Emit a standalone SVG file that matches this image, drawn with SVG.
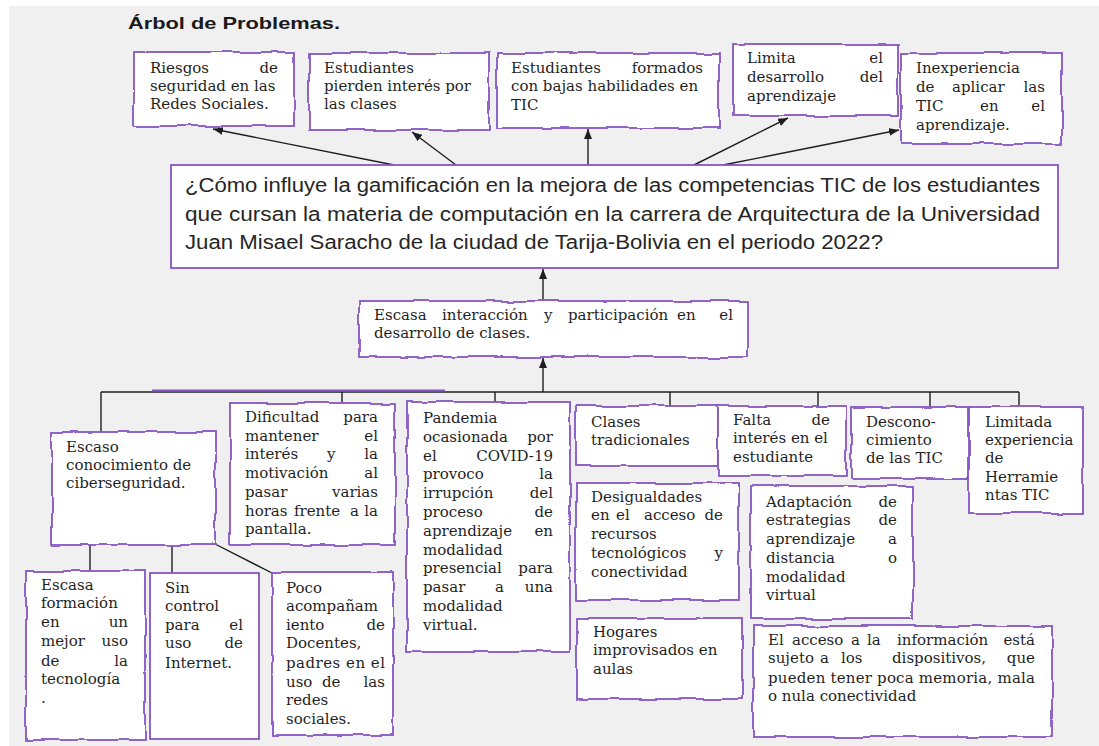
<svg xmlns="http://www.w3.org/2000/svg" width="1099" height="746" viewBox="0 0 1099 746">
<defs>
<style>
.bg{fill:#f0f0f0}
.bx{fill:#fff;stroke:#8456c4;stroke-width:1.8;filter:url(#wob)}
.sb{fill:#fff;stroke:#8456c4;stroke-width:1.8}
.t{font-family:"DejaVu Serif","Liberation Serif",serif;font-size:15px;fill:#1f1f1f}
.e{text-anchor:end}
.q{font-family:"Liberation Sans",Arial,sans-serif;font-size:19.5px;fill:#262626}
.h{font-family:"Liberation Sans",Arial,sans-serif;font-size:16.5px;font-weight:bold;fill:#1a1a1a}
.c{stroke:#1e1e1e;stroke-width:1.4;fill:none}
.a{marker-end:url(#ah)}
.p{stroke:#8456c4;stroke-width:1.8;fill:none}
</style>
<marker id="ah" markerWidth="10" markerHeight="8" refX="10" refY="4" orient="auto" markerUnits="userSpaceOnUse"><path d="M0,0 L10,4 L0,8 z" fill="#1e1e1e"/></marker>
<filter id="wob"><feTurbulence type="fractalNoise" baseFrequency="0.03" numOctaves="2" seed="7"/><feDisplacementMap in="SourceGraphic" scale="5" xChannelSelector="R" yChannelSelector="G"/></filter>
</defs>
<rect class="bg" x="9" y="6" width="1090" height="740"/>
<text class="h" x="128" y="29" textLength="212" lengthAdjust="spacingAndGlyphs">Árbol de Problemas.</text>

<g id="connectors">
<line class="c a" x1="394" y1="165" x2="213" y2="129"/>
<line class="c a" x1="456" y1="165" x2="412" y2="132"/>
<line class="c a" x1="588" y1="165" x2="588" y2="129"/>
<line class="c a" x1="694" y1="165" x2="788" y2="118"/>
<line class="c a" x1="723" y1="165" x2="899" y2="130"/>
<line class="c a" x1="543" y1="301" x2="543" y2="269"/>
<line class="c a" x1="543" y1="392" x2="543" y2="358"/>
<line class="c" x1="101" y1="392" x2="1019" y2="392"/>
<line class="p" x1="152" y1="390.5" x2="445" y2="390.5"/>
<line class="c" x1="101" y1="392" x2="101" y2="432"/>
<line class="c" x1="342" y1="392" x2="342" y2="404"/>
<line class="c" x1="495" y1="392" x2="495" y2="403"/>
<line class="c" x1="670" y1="392" x2="670" y2="407"/>
<line class="c" x1="818" y1="392" x2="818" y2="407"/>
<line class="c" x1="930" y1="392" x2="930" y2="408"/>
<line class="c" x1="1019" y1="392" x2="1019" y2="408"/>
<line class="c" x1="90" y1="545" x2="90" y2="571"/>
<line class="c" x1="172" y1="545" x2="172" y2="573"/>
<line class="c" x1="215" y1="544" x2="272" y2="573"/>
</g>

<g id="n1">
<rect class="bx" x="134" y="52" width="160" height="74"/>
<text class="t" x="150" y="73">Riesgos</text><text class="t e" x="278" y="73">de</text>
<text class="t" x="150" y="91">seguridad en las</text>
<text class="t" x="150" y="109">Redes Sociales.</text>
</g>
<g id="n2">
<rect class="bx" x="309" y="53" width="180" height="77"/>
<text class="t" x="324" y="73">Estudiantes</text>
<text class="t" x="324" y="91">pierden interés por</text>
<text class="t" x="324" y="109">las clases</text>
</g>
<g id="n3">
<rect class="bx" x="497" y="53" width="222" height="75"/>
<text class="t" x="511" y="73">Estudiantes</text><text class="t e" x="703" y="73">formados</text>
<text class="t" x="511" y="91">con bajas habilidades en</text>
<text class="t" x="511" y="110">TIC</text>
</g>
<g id="n4">
<rect class="bx" x="733" y="44" width="165" height="72"/>
<text class="t" x="747" y="63">Limita</text><text class="t e" x="883" y="63">el</text>
<text class="t" x="747" y="82">desarrollo</text><text class="t e" x="883" y="82">del</text>
<text class="t" x="747" y="101">aprendizaje</text>
</g>
<g id="n5">
<rect class="bx" x="901" y="53" width="161" height="91"/>
<text class="t" x="916" y="73">Inexperiencia</text>
<text class="t" x="916" y="92">de</text><text class="t" x="952" y="92">aplicar</text><text class="t e" x="1045" y="92">las</text>
<text class="t" x="916" y="111">TIC</text><text class="t" x="980" y="111">en</text><text class="t e" x="1045" y="111">el</text>
<text class="t" x="916" y="130">aprendizaje.</text>
</g>

<g id="main">
<rect class="sb" x="171" y="165" width="887" height="103"/>
<text class="q" x="185" y="192" textLength="855" lengthAdjust="spacingAndGlyphs">¿Cómo influye la gamificación en la mejora de las competencias TIC de los estudiantes</text>
<text class="q" x="185" y="220.5" textLength="855" lengthAdjust="spacingAndGlyphs">que cursan la materia de computación en la carrera de Arquitectura de la Universidad</text>
<text class="q" x="185" y="249" textLength="698" lengthAdjust="spacingAndGlyphs">Juan Misael Saracho de la ciudad de Tarija-Bolivia en el periodo 2022?</text>
</g>

<g id="n6">
<rect class="bx" x="359" y="301" width="389" height="56"/>
<text class="t" x="374" y="320">Escasa</text><text class="t" x="442" y="320">interacción</text><text class="t" x="544" y="320">y</text><text class="t" x="568" y="320">participación</text><text class="t" x="677" y="320">en</text><text class="t e" x="733" y="320">el</text>
<text class="t" x="374" y="338">desarrollo de clases.</text>
</g>

<g id="n7">
<rect class="bx" x="52" y="432" width="163" height="113"/>
<text class="t" x="66" y="452">Escaso</text>
<text class="t" x="66" y="470">conocimiento de</text>
<text class="t" x="66" y="488">ciberseguridad.</text>
</g>
<g id="n8">
<rect class="bx" x="230" y="403" width="165" height="142"/>
<text class="t" x="245" y="422">Dificultad</text><text class="t e" x="378" y="422">para</text>
<text class="t" x="245" y="441">mantener</text><text class="t e" x="378" y="441">el</text>
<text class="t" x="245" y="459">interés</text><text class="t" x="327" y="459">y</text><text class="t e" x="378" y="459">la</text>
<text class="t" x="245" y="478">motivación</text><text class="t e" x="378" y="478">al</text>
<text class="t" x="245" y="497">pasar</text><text class="t e" x="378" y="497">varias</text>
<text class="t" x="245" y="516">horas</text><text class="t" x="294" y="516">frente</text><text class="t" x="350" y="516">a</text><text class="t e" x="378" y="516">la</text>
<text class="t" x="245" y="534">pantalla.</text>
</g>
<g id="n9">
<rect class="bx" x="407" y="402" width="163" height="250"/>
<text class="t" x="423" y="423">Pandemia</text>
<text class="t" x="423" y="442">ocasionada</text><text class="t e" x="553" y="442">por</text>
<text class="t" x="423" y="461">el</text><text class="t e" x="553" y="461">COVID-19</text>
<text class="t" x="423" y="479">provoco</text><text class="t e" x="553" y="479">la</text>
<text class="t" x="423" y="498">irrupción</text><text class="t e" x="553" y="498">del</text>
<text class="t" x="423" y="517">proceso</text><text class="t e" x="553" y="517">de</text>
<text class="t" x="423" y="536">aprendizaje</text><text class="t e" x="553" y="536">en</text>
<text class="t" x="423" y="555">modalidad</text>
<text class="t" x="423" y="573">presencial</text><text class="t e" x="553" y="573">para</text>
<text class="t" x="423" y="592">pasar</text><text class="t" x="495" y="592">a</text><text class="t e" x="553" y="592">una</text>
<text class="t" x="423" y="611">modalidad</text>
<text class="t" x="423" y="630">virtual.</text>
</g>
<g id="n10">
<rect class="bx" x="576" y="406" width="142" height="60"/>
<text class="t" x="591" y="427">Clases</text>
<text class="t" x="591" y="445">tradicionales</text>
</g>
<g id="n11">
<rect class="bx" x="576" y="483" width="163" height="117"/>
<text class="t" x="591" y="502">Desigualdades</text>
<text class="t" x="591" y="520">en</text><text class="t" x="616" y="520">el</text><text class="t" x="644" y="520">acceso</text><text class="t e" x="723" y="520">de</text>
<text class="t" x="591" y="539">recursos</text>
<text class="t" x="591" y="558">tecnológicos</text><text class="t e" x="723" y="558">y</text>
<text class="t" x="591" y="577">conectividad</text>
</g>
<g id="n12">
<rect class="bx" x="577" y="618" width="165" height="81"/>
<text class="t" x="593" y="637">Hogares</text>
<text class="t" x="593" y="655">improvisados en</text>
<text class="t" x="593" y="674">aulas</text>
</g>
<g id="n13">
<rect class="bx" x="718" y="406" width="129" height="70"/>
<text class="t" x="733" y="425">Falta</text><text class="t e" x="830" y="425">de</text>
<text class="t" x="733" y="443">interés en el</text>
<text class="t" x="733" y="462">estudiante</text>
</g>
<g id="n14">
<rect class="bx" x="852" y="407" width="116" height="71"/>
<text class="t" x="866" y="427">Descono-</text>
<text class="t" x="866" y="445">cimiento</text>
<text class="t" x="866" y="463">de las TIC</text>
</g>
<g id="n15">
<rect class="bx" x="969" y="407" width="114" height="106"/>
<text class="t" x="985" y="427">Limitada</text>
<text class="t" x="985" y="445">experiencia</text>
<text class="t" x="985" y="463">de</text>
<text class="t" x="985" y="482">Herramie</text>
<text class="t" x="985" y="500">ntas TIC</text>
</g>
<g id="n16">
<rect class="bx" x="751" y="486" width="162" height="133"/>
<text class="t" x="766" y="507">Adaptación</text><text class="t e" x="897" y="507">de</text>
<text class="t" x="766" y="525">estrategias</text><text class="t e" x="897" y="525">de</text>
<text class="t" x="766" y="544">aprendizaje</text><text class="t e" x="897" y="544">a</text>
<text class="t" x="766" y="563">distancia</text><text class="t e" x="897" y="563">o</text>
<text class="t" x="766" y="582">modalidad</text>
<text class="t" x="766" y="600">virtual</text>
</g>
<g id="n17">
<rect class="bx" x="753" y="626" width="299" height="111"/>
<text class="t" x="768" y="645">El</text><text class="t" x="792" y="645">acceso</text><text class="t" x="851" y="645">a</text><text class="t" x="867" y="645">la</text><text class="t" x="897" y="645">información</text><text class="t e" x="1035" y="645">está</text>
<text class="t" x="768" y="663">sujeto</text><text class="t" x="820" y="663">a</text><text class="t" x="841" y="663">los</text><text class="t" x="892" y="663">dispositivos,</text><text class="t e" x="1035" y="663">que</text>
<text class="t" x="768" y="683" textLength="267" lengthAdjust="spacing">pueden tener poca memoria, mala</text>
<text class="t" x="768" y="701">o nula conectividad</text>
</g>

<g id="n18">
<rect class="bx" x="26" y="571" width="119" height="169"/>
<text class="t" x="41" y="590">Escasa</text>
<text class="t" x="41" y="608">formación</text>
<text class="t" x="41" y="627">en</text><text class="t e" x="128" y="627">un</text>
<text class="t" x="41" y="646">mejor</text><text class="t e" x="128" y="646">uso</text>
<text class="t" x="41" y="666">de</text><text class="t e" x="128" y="666">la</text>
<text class="t" x="41" y="684">tecnología</text>
<text class="t" x="41" y="703">.</text>
</g>
<g id="n19">
<rect class="sb" x="150" y="573" width="109" height="166"/>
<text class="t" x="165" y="593">Sin</text>
<text class="t" x="165" y="611">control</text>
<text class="t" x="165" y="630">para</text><text class="t e" x="243" y="630">el</text>
<text class="t" x="165" y="648">uso</text><text class="t e" x="243" y="648">de</text>
<text class="t" x="165" y="668">Internet.</text>
</g>
<g id="n20">
<rect class="bx" x="272" y="572" width="121" height="163"/>
<text class="t" x="286" y="593">Poco</text>
<text class="t" x="286" y="611">acompañam</text>
<text class="t" x="286" y="630">iento</text><text class="t e" x="385" y="630">de</text>
<text class="t" x="286" y="648">Docentes,</text>
<text class="t" x="286" y="668" textLength="99" lengthAdjust="spacing">padres en el</text>
<text class="t" x="286" y="687">uso</text><text class="t" x="322" y="687">de</text><text class="t e" x="385" y="687">las</text>
<text class="t" x="286" y="705">redes</text>
<text class="t" x="286" y="724">sociales.</text>
</g>
</svg>
